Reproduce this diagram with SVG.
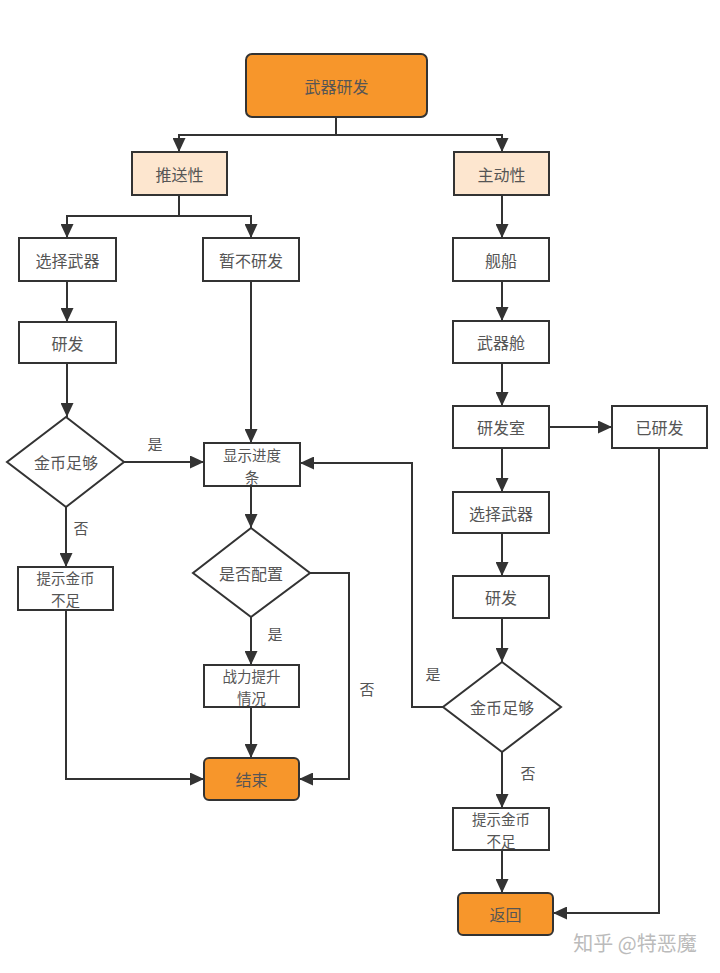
<svg xmlns="http://www.w3.org/2000/svg" width="720" height="973" viewBox="0 0 720 973">
<style>
.box{fill:#fff;stroke:#333;stroke-width:2}
.term{fill:#f7962b;stroke:#333;stroke-width:2}
.cat{fill:#fde6cf;stroke:#333;stroke-width:2}
.dia{fill:#fff;stroke:#333;stroke-width:2}
.t{font-family:"Noto Sans CJK SC","Noto Sans",sans-serif;font-size:16px;fill:#555;text-anchor:middle;dominant-baseline:central}
.t2{font-family:"Noto Sans CJK SC","Noto Sans",sans-serif;font-size:14.5px;fill:#555;text-anchor:middle;dominant-baseline:central}
.lbl{font-family:"Noto Sans CJK SC","Noto Sans",sans-serif;font-size:15px;fill:#555;text-anchor:middle;dominant-baseline:central}
.c{fill:none;stroke:#333;stroke-width:2}
.wm{font-family:"Noto Sans CJK SC","Noto Sans",sans-serif;font-size:20px;fill:#bbb;text-anchor:middle;dominant-baseline:central}
</style>
<defs>
<marker id="a" markerUnits="userSpaceOnUse" markerWidth="14" markerHeight="13" refX="14" refY="6.5" orient="auto">
<path d="M0,0 L14,6.5 L0,13 z" fill="#333"/>
</marker>
</defs>
<rect width="720" height="973" fill="#fff"/>
<g id="connectors">
<path class="c" d="M336,117 V135 H179 V152" marker-end="url(#a)"/>
<path class="c" d="M336,135 H502 V152" marker-end="url(#a)"/>
<path class="c" d="M179,195 V216 H67 V238" marker-end="url(#a)"/>
<path class="c" d="M179,216 H251 V238" marker-end="url(#a)"/>
<path class="c" d="M67,281 V322" marker-end="url(#a)"/>
<path class="c" d="M67,363 V417" marker-end="url(#a)"/>
<path class="c" d="M124,462 H204" marker-end="url(#a)"/>
<path class="c" d="M251,281 V443" marker-end="url(#a)"/>
<path class="c" d="M66,507 V567" marker-end="url(#a)"/>
<path class="c" d="M66,610 V779 H204" marker-end="url(#a)"/>
<path class="c" d="M251,486 V528" marker-end="url(#a)"/>
<path class="c" d="M251,617 V665" marker-end="url(#a)"/>
<path class="c" d="M251,707 V758" marker-end="url(#a)"/>
<path class="c" d="M310,573 H349 V779 H299" marker-end="url(#a)"/>
<path class="c" d="M502,195 V238" marker-end="url(#a)"/>
<path class="c" d="M502,281 V321" marker-end="url(#a)"/>
<path class="c" d="M502,363 V406" marker-end="url(#a)"/>
<path class="c" d="M549,427 H612" marker-end="url(#a)"/>
<path class="c" d="M502,448 V492" marker-end="url(#a)"/>
<path class="c" d="M502,533 V576" marker-end="url(#a)"/>
<path class="c" d="M502,618 V662" marker-end="url(#a)"/>
<path class="c" d="M502,752 V808" marker-end="url(#a)"/>
<path class="c" d="M502,850 V893" marker-end="url(#a)"/>
<path class="c" d="M443,707 H412 V463 H300" marker-end="url(#a)"/>
<path class="c" d="M659,448 V913 H553" marker-end="url(#a)"/>
<text class="lbl" x="155" y="443">是</text>
<text class="lbl" x="81" y="527">否</text>
<text class="lbl" x="275" y="633">是</text>
<text class="lbl" x="367" y="688">否</text>
<text class="lbl" x="433" y="673">是</text>
<text class="lbl" x="528" y="772">否</text>
</g>
<g id="n_root"><rect class="term" x="246" y="54" width="181" height="63" rx="6"/><text class="t" x="336.5" y="85.5">武器研发</text></g>
<g id="n_push"><rect class="cat" x="132" y="152" width="95" height="43"/><text class="t" x="179.5" y="173.5">推送性</text></g>
<g id="n_active"><rect class="cat" x="454" y="152" width="95" height="43"/><text class="t" x="501.5" y="173.5">主动性</text></g>
<g id="n_sel1"><rect class="box" x="19" y="238" width="97" height="43"/><text class="t" x="67.5" y="259.5">选择武器</text></g>
<g id="n_pause"><rect class="box" x="203" y="238" width="96" height="43"/><text class="t" x="251" y="259.5">暂不研发</text></g>
<g id="n_dev1"><rect class="box" x="19" y="322" width="97" height="41"/><text class="t" x="67.5" y="342.5">研发</text></g>
<g id="n_gold1"><polygon class="dia" points="66,417 124,462 66,507 7,462"/><text class="t" x="66" y="462">金币足够</text></g>
<g id="n_prog"><rect class="box" x="204" y="443" width="96" height="43"/><text class="t2" x="252" y="454">显示进度</text><text class="t2" x="252" y="476">条</text></g>
<g id="n_lack1"><rect class="box" x="18" y="567" width="95" height="43"/><text class="t2" x="65.5" y="577">提示金币</text><text class="t2" x="65.5" y="599">不足</text></g>
<g id="n_cfg"><polygon class="dia" points="251,528 310,573 251,617 193,573"/><text class="t" x="251" y="573">是否配置</text></g>
<g id="n_power"><rect class="box" x="204" y="665" width="95" height="42"/><text class="t2" x="251.5" y="675">战力提升</text><text class="t2" x="251.5" y="697">情况</text></g>
<g id="n_end"><rect class="term" x="204" y="758" width="95" height="42" rx="5"/><text class="t" x="251.5" y="779">结束</text></g>
<g id="n_ship"><rect class="box" x="453" y="238" width="96" height="43"/><text class="t" x="501" y="259.5">舰船</text></g>
<g id="n_bay"><rect class="box" x="453" y="321" width="96" height="42"/><text class="t" x="501" y="342">武器舱</text></g>
<g id="n_lab"><rect class="box" x="453" y="406" width="96" height="42"/><text class="t" x="501" y="427">研发室</text></g>
<g id="n_done"><rect class="box" x="612" y="406" width="95" height="42"/><text class="t" x="659.5" y="427">已研发</text></g>
<g id="n_sel2"><rect class="box" x="453" y="492" width="96" height="41"/><text class="t" x="501" y="512.5">选择武器</text></g>
<g id="n_dev2"><rect class="box" x="453" y="576" width="96" height="42"/><text class="t" x="501" y="597">研发</text></g>
<g id="n_gold2"><polygon class="dia" points="502,662 561,707 502,752 443,707"/><text class="t" x="502" y="707">金币足够</text></g>
<g id="n_lack2"><rect class="box" x="453" y="808" width="96" height="42"/><text class="t2" x="501" y="818">提示金币</text><text class="t2" x="501" y="840">不足</text></g>
<g id="n_ret"><rect class="term" x="458" y="893" width="95" height="42" rx="5"/><text class="t" x="505.5" y="914">返回</text></g>
<text class="wm" x="635" y="942">知乎 @特恶魔</text>
</svg>
